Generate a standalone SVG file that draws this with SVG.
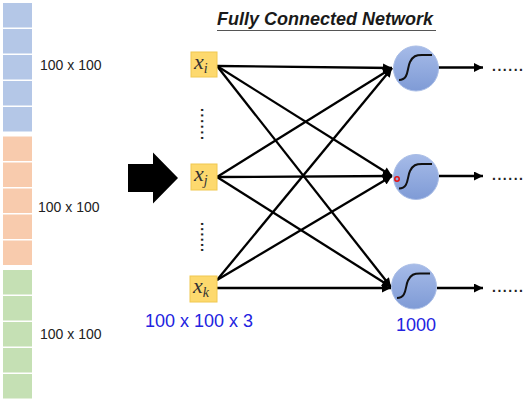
<svg xmlns="http://www.w3.org/2000/svg" width="532" height="400" viewBox="0 0 532 400">
<style>
.lbl{font-family:"Liberation Sans",Arial,sans-serif;font-size:14px;fill:#222}
.blue{font-family:"Liberation Sans",Arial,sans-serif;font-size:18px;fill:#2323e0}
.title{font-family:"Liberation Sans",Arial,sans-serif;font-size:18px;font-weight:bold;font-style:italic;fill:#1a1a1a}
.bb{fill:#b4c7e7}
.ob{fill:#f8cbad}
.gb{fill:#c5e0b4}
.inbox{fill:#fdd96e;stroke:#f0c850;stroke-width:1}
.xv{font-family:"Liberation Serif","Times New Roman",serif;font-style:italic;font-size:22px;fill:#333}
.xs{font-size:14px}
.neuron{fill:url(#ng);stroke:#a9bde6;stroke-width:1}
.sig{fill:none;stroke:#111;stroke-width:2}
.conn{stroke:#000;stroke-width:2.3;fill:none;marker-end:url(#ah)}
.dots{font-family:"Liberation Sans",Arial,sans-serif;font-size:14px;font-weight:bold;fill:#222}
</style>
<defs>
<linearGradient id="ng" x1="0" y1="0" x2="0" y2="1">
<stop offset="0" stop-color="#a6bbe8"/>
<stop offset="1" stop-color="#7f9bd6"/>
</linearGradient>
<marker id="ah" viewBox="0 0 10 10" refX="10" refY="5" markerWidth="11" markerHeight="9" markerUnits="userSpaceOnUse" orient="auto">
<path d="M0,0 L10,5 L0,10 Z" fill="#000"/>
</marker>
</defs>
<rect width="532" height="400" fill="#fff"/>

<g id="input-stack">
<rect class="bb" x="3" y="3" width="29" height="24.5"/>
<rect class="bb" x="3" y="29" width="29" height="24.5"/>
<rect class="bb" x="3" y="55" width="29" height="24.5"/>
<rect class="bb" x="3" y="81" width="29" height="24.5"/>
<rect class="bb" x="3" y="107" width="29" height="24.5"/>
<rect class="ob" x="3" y="136.5" width="29" height="24.5"/>
<rect class="ob" x="3" y="162.5" width="29" height="24.5"/>
<rect class="ob" x="3" y="188.5" width="29" height="24.5"/>
<rect class="ob" x="3" y="214.5" width="29" height="24.5"/>
<rect class="ob" x="3" y="240.5" width="29" height="24.5"/>
<rect class="gb" x="3" y="270" width="29" height="24.5"/>
<rect class="gb" x="3" y="296" width="29" height="24.5"/>
<rect class="gb" x="3" y="322" width="29" height="24.5"/>
<rect class="gb" x="3" y="348" width="29" height="24.5"/>
<rect class="gb" x="3" y="374" width="29" height="24.5"/>
<text class="lbl" x="40" y="70">100 x 100</text>
<text class="lbl" x="38" y="212">100 x 100</text>
<text class="lbl" x="40" y="339">100 x 100</text>
</g>

<g id="big-arrow">
<path d="M128,164 L153,164 L153,152.5 L178,178 L153,203.5 L153,192 L128,192 Z" fill="#000"/>
</g>

<g id="title">
<text class="title" x="217" y="25" textLength="216" lengthAdjust="spacingAndGlyphs">Fully Connected Network</text>
<line x1="217" y1="30.5" x2="436" y2="30.5" stroke="#555" stroke-width="1.2"/>
</g>

<g id="connectors">
<line class="conn" x1="217" y1="66" x2="392" y2="68"/>
<line class="conn" x1="217" y1="66" x2="392" y2="176"/>
<line class="conn" x1="217" y1="66" x2="391" y2="287"/>
<line class="conn" x1="217" y1="177" x2="392" y2="68"/>
<line class="conn" x1="217" y1="177" x2="392" y2="176"/>
<line class="conn" x1="217" y1="177" x2="391" y2="287"/>
<line class="conn" x1="217" y1="280" x2="392" y2="68"/>
<line class="conn" x1="217" y1="280" x2="392" y2="176"/>
<line class="conn" x1="217" y1="288" x2="391" y2="288"/>
<line class="conn" x1="438" y1="67.5" x2="483" y2="67.5"/>
<line class="conn" x1="439" y1="176" x2="483" y2="176"/>
<line class="conn" x1="437" y1="288" x2="483" y2="288"/>
</g>

<g id="xi">
<rect class="inbox" x="191" y="52" width="26" height="25"/>
<text class="xv" x="194" y="69">x<tspan class="xs" dy="4">i</tspan></text>
</g>
<g id="dots-upper">
<text class="dots" transform="translate(200.5,108) rotate(90)" textLength="32" lengthAdjust="spacing">......</text>
</g>
<g id="xj">
<rect class="inbox" x="191" y="164" width="26" height="26"/>
<text class="xv" x="194" y="181">x<tspan class="xs" dy="4">j</tspan></text>
</g>
<g id="dots-lower">
<text class="dots" transform="translate(200.5,222) rotate(90)" textLength="30" lengthAdjust="spacing">......</text>
</g>
<g id="xk">
<rect class="inbox" x="190" y="276" width="27" height="26"/>
<text class="xv" x="193" y="293">x<tspan class="xs" dy="4">k</tspan></text>
</g>
<text class="blue" x="145" y="327">100 x 100 x 3</text>

<g id="n1">
<circle class="neuron" cx="416" cy="68.5" r="22.5"/>
<path class="sig" d="M399,80 C409,80 407,68 410,62 C413,56 416,55 422,55 L432,55"/>
</g>
<g id="n2">
<circle class="neuron" cx="416" cy="177" r="22.5"/>
<path class="sig" d="M399,188.5 C409,188.5 407,177 410,171 C413,165 416,164 422,164 L432,164"/>
<circle cx="397" cy="179" r="2.2" fill="none" stroke="#e81010" stroke-width="1.5"/>
</g>
<g id="n3">
<circle class="neuron" cx="414" cy="286.5" r="22.5"/>
<path class="sig" d="M397,298 C407,298 405,286.5 408,280.5 C411,274.5 414,273.5 420,273.5 L430,273.5"/>
</g>
<text class="blue" x="416" y="331" text-anchor="middle">1000</text>

<g id="out-dots">
<text class="dots" x="492" y="71" textLength="31" lengthAdjust="spacing">......</text>
<text class="dots" x="492" y="180" textLength="31" lengthAdjust="spacing">......</text>
<text class="dots" x="492" y="292" textLength="31" lengthAdjust="spacing">......</text>
</g>
</svg>
